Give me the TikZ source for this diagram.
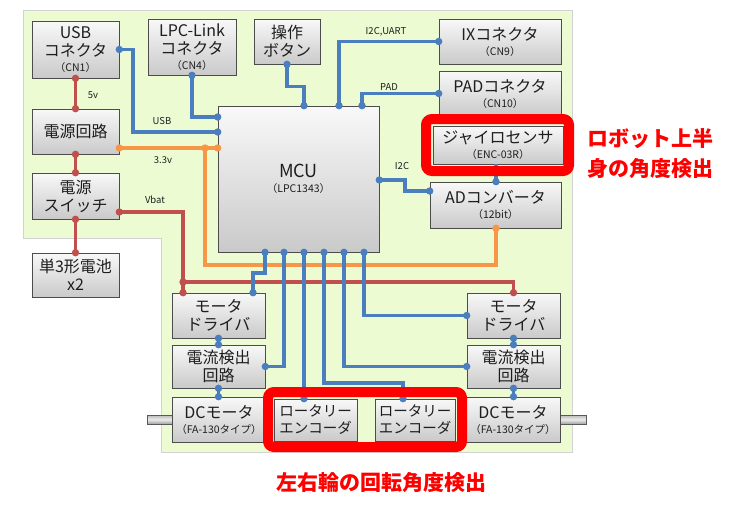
\documentclass[tikz,border=0pt]{standalone}
\usepackage{fontspec}
\setmainfont{Noto Sans CJK JP}
\usetikzlibrary{shadows}
\definecolor{cbl}{RGB}{74,126,190}
\definecolor{crd}{RGB}{192,80,77}
\definecolor{cog}{RGB}{247,150,70}
\definecolor{bgg}{RGB}{236,251,210}
\definecolor{txt}{RGB}{30,30,30}
\newcommand\mainf{\fontsize{16}{18}\selectfont}
\newcommand\subf{\fontsize{10.5}{12}\selectfont}
\newcommand\bx[7][]{\node[box, minimum width=#5pt, minimum height=#6pt, #1] (#2) at (#3,#4) {#7};}
\newcommand\pin[2]{\fill[#1] (#2) circle (3.7pt);}
\begin{document}
\begin{tikzpicture}[x=1pt,y=-1pt,
  box/.style={draw=gray!60!black, line width=0.6pt, top color=gray!5, bottom color=gray!42,
    inner sep=0pt, align=center, text=txt, font=\mainf,
    drop shadow={shadow xshift=1pt, shadow yshift=-1.2pt, opacity=0.35}},
  bl/.style={draw=cbl, line width=3.2pt},
  rd/.style={draw=crd, line width=3.2pt},
  og/.style={draw=cog, line width=3.2pt},
  elab/.style={font=\fontsize{9.5}{11}\selectfont, text=txt},
  frame/.style={draw=red, line width=10pt, rounded corners=6pt},
  note/.style={text=red, font=\fontsize{21}{30}\selectfont\bfseries, align=left}]
\useasboundingbox (0,0) rectangle (734,514);
% background area
\fill[bgg, draw=gray!35, line width=0.8pt] (23,10) -- (572,10) -- (572,452) -- (161,452) -- (161,238) -- (23,238) -- cycle;
% shafts
\shade[top color=gray!55, bottom color=gray!75, middle color=gray!15, draw=gray!70!black, line width=0.4pt] (147,415) rectangle (172,424);
\shade[top color=gray!55, bottom color=gray!75, middle color=gray!15, draw=gray!70!black, line width=0.4pt] (560,415) rectangle (586,424);
% boxes
\bx{usb}{75.5}{49.5}{87}{57}{USB\\コネクタ\\[-3pt]{\subf （CN1）}}
\bx{lpc}{192}{47}{88}{56}{LPC-Link\\コネクタ\\[-3pt]{\subf （CN4）}}
\bx{btn}{287}{41.5}{66}{45}{操作\\ボタン}
\bx{ix}{500}{41.5}{122}{45}{IXコネクタ\\[-3pt]{\subf （CN9）}}
\bx{pad}{500}{93.5}{122}{45}{PADコネクタ\\[-3pt]{\subf （CN10）}}
\bx{gyro}{498}{145}{130}{38}{ジャイロセンサ\\[-3pt]{\subf （ENC-03R）}}
\bx{ad}{495.5}{205}{131}{46}{ADコンバータ\\[-3pt]{\subf （12bit）}}
\bx{pwr}{75.5}{131.5}{87}{45}{電源回路}
\bx{sw}{75.5}{196}{87}{46}{電源\\スイッチ}
\bx{bat}{75.5}{275}{87}{44}{単3形電池\\x2}
\bx{mcu}{298.5}{179}{161}{146}{{\fontsize{18}{20}\selectfont MCU}\\[-3pt]{\subf （LPC1343）}}
\bx{mdl}{218.5}{315.5}{93}{45}{モータ\\ドライバ}
\bx{cdl}{218.5}{366.5}{93}{43}{電流検出\\回路}
\bx{mdr}{513.5}{315.5}{93}{45}{モータ\\ドライバ}
\bx{cdr}{513.5}{366.5}{93}{43}{電流検出\\回路}
\bx{dcl}{219}{419.5}{94}{45}{DCモータ\\[-3pt]{\subf （FA-130タイプ）}}
\bx[font=\fontsize{14.5}{17}\selectfont]{rel}{315.5}{420}{83}{42}{ロータリー\\エンコーダ}
\bx[font=\fontsize{14.5}{17}\selectfont]{rer}{415}{420}{80}{42}{ロータリー\\エンコーダ}
\bx{dcr}{513}{419.5}{94}{45}{DCモータ\\[-3pt]{\subf （FA-130タイプ）}}
% power (red)
\draw[rd] (usb.south) -- (pwr.north);
\pin{crd}{usb.south}\pin{crd}{pwr.north}
\draw[rd] (pwr.south) -- (sw.north);
\pin{crd}{pwr.south}\pin{crd}{sw.north}
\draw[rd] (sw.south) -- (bat.north);
\pin{crd}{sw.south}\pin{crd}{bat.north}
\coordinate (vj) at (183,282);
\coordinate (vs) at (sw.east |- 0,212);
\draw[rd] (vs) -| (vj) -- (vj |- mdl.north);
\draw[rd] (vj) -| (mdr.north);
\pin{crd}{vs}\pin{crd}{vj}\pin{crd}{vj |- mdl.north}\pin{crd}{mdr.north}
\node[elab] (l5v) at (93,95) {5v};
\node[elab] (lvbat) at (155,200) {Vbat};
% 3.3v (orange)
\coordinate (oj) at (205,148);
\draw[og] (pwr.east |- oj) -- (mcu.west |- oj);
\draw[og] (oj) -- (205,265) -| (ad.south -| 496,0);
\pin{cog}{pwr.east |- oj}\pin{cog}{oj}\pin{cog}{mcu.west |- oj}\pin{cog}{ad.south -| 496,0}
\node[elab] (l33) at (163,160) {3.3v};
% signals (blue)
\draw[bl] (usb.east) -- (133,49.5) |- (mcu.west |- 0,132);
\pin{cbl}{usb.east}\pin{cbl}{mcu.west |- 0,132}
\node[elab] (lusb) at (162,121) {USB};
\draw[bl] (lpc.south) |- (mcu.west |- 0,117);
\pin{cbl}{lpc.south}\pin{cbl}{mcu.west |- 0,117}
\draw[bl] (btn.south) -- ++(0,22) -| (mcu.north -| 304,0);
\pin{cbl}{btn.south}\pin{cbl}{mcu.north -| 304,0}
\draw[bl] (mcu.north -| 339,0) |- (ix.west);
\pin{cbl}{mcu.north -| 339,0}\pin{cbl}{ix.west}
\node[elab] (li2cu) at (386,32) {I2C,UART};
\draw[bl] (mcu.north -| 362,0) |- (pad.west);
\pin{cbl}{mcu.north -| 362,0}\pin{cbl}{pad.west}
\node[elab] (lpad) at (389,87) {PAD};
\draw[bl] (mcu.east |- 0,180) -- (405,180) |- (ad.west |- 0,191);
\pin{cbl}{mcu.east |- 0,180}\pin{cbl}{ad.west |- 0,191}
\node[elab] (li2c) at (402,166) {I2C};
\draw[bl] (gyro.south -| 496,0) -- (ad.north -| 496,0);
\pin{cbl}{ad.north -| 496,0}
% MCU bottom pins
\draw[bl] (mcu.south -| 265,0) -- (265,273) -| (mdl.north -| 253,0);
\pin{cbl}{mcu.south -| 265,0}\pin{cbl}{mdl.north -| 253,0}
\draw[bl] (mcu.south -| 284,0) |- (cdl.east);
\pin{cbl}{mcu.south -| 284,0}\pin{cbl}{cdl.east}
\draw[bl] (mcu.south -| 304,0) -- (rel.north -| 304,0);
\pin{cbl}{mcu.south -| 304,0}\pin{cbl}{rel.north -| 304,0}
\draw[bl] (mcu.south -| 324,0) -- (324,383) -| (rer.north -| 403,0);
\pin{cbl}{mcu.south -| 324,0}\pin{cbl}{rer.north -| 403,0}
\draw[bl] (mcu.south -| 344,0) |- (cdr.west);
\pin{cbl}{mcu.south -| 344,0}\pin{cbl}{cdr.west}
\draw[bl] (mcu.south -| 364,0) |- (mdr.west);
\pin{cbl}{mcu.south -| 364,0}\pin{cbl}{mdr.west}
% driver -> current sense -> motor
\draw[bl] (mdl.south) -- (cdl.north);
\pin{cbl}{mdl.south}\pin{cbl}{cdl.north}
\draw[bl] (mdr.south) -- (cdr.north);
\pin{cbl}{mdr.south}\pin{cbl}{cdr.north}
\draw[bl] (cdl.south) -- (cdl.south |- dcl.north);
\pin{cbl}{cdl.south}\pin{cbl}{cdl.south |- dcl.north}
\draw[bl] (cdr.south) -- (cdr.south |- dcr.north);
\pin{cbl}{cdr.south}\pin{cbl}{cdr.south |- dcr.north}
% red highlight frames
\draw[frame] (426,119) rectangle (569,171);
\draw[frame] (268,392) rectangle (462,447);
\node[note] (n1) at (650,154) {ロボット上半\\身の角度検出};
\node[note] (n2) at (381.5,483) {左右輪の回転角度検出};
\end{tikzpicture}
\end{document}
